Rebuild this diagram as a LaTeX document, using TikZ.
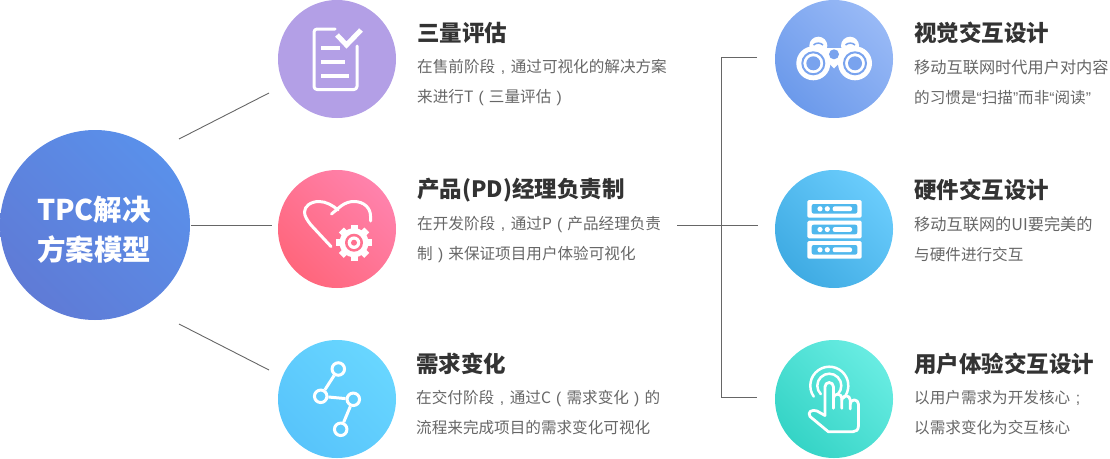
\documentclass[tikz,border=0pt]{standalone}
\usepackage{fontspec}
\setmainfont{Noto Sans CJK SC}
\newfontfamily\punctfont{Liberation Sans}
\usepackage{tikz}
\usetikzlibrary{calc, positioning}
\usepackage{xcolor}

\definecolor{maina}{HTML}{5F7BD6}
\definecolor{mainb}{HTML}{5A90EA}
\definecolor{evala}{HTML}{B39FE6}
\definecolor{proda}{HTML}{FF667C}
\definecolor{prodb}{HTML}{FF82AC}
\definecolor{chgea}{HTML}{58C4FB}
\definecolor{chgeb}{HTML}{68D6FF}
\definecolor{visa}{HTML}{6C9AEB}
\definecolor{visb}{HTML}{98B9F6}
\definecolor{hwa}{HTML}{3FABE3}
\definecolor{hwb}{HTML}{6ACCFC}
\definecolor{usra}{HTML}{35D4C6}
\definecolor{usrb}{HTML}{68ECE2}
\definecolor{headcol}{HTML}{333333}
\definecolor{bodycol}{HTML}{666666}

% punctuation set in the middle of a full-width box, and narrow quotes
\newcommand{\zw}[1]{\makebox[1em][c]{\punctfont #1}}
\newcommand{\qo}{{\punctfont “}}
\newcommand{\qc}{{\punctfont ”}}
\newcommand{\wideline}{\fontsize{16.2}{30}\selectfont}

\tikzset{
  ball/.style n args={2}{circle, minimum size=118pt, inner sep=0pt,
    bottom color=#1, top color=#2, shading angle=-45},
  headtext/.style={anchor=west, inner sep=0pt, text=headcol,
    font=\fontsize{22.5}{26}\selectfont\bfseries},
  bodytext/.style={anchor=west, inner sep=0pt, text=bodycol, align=left,
    font=\fontsize{15.6}{30}\selectfont},
  link/.style={draw=bodycol, line width=0.9pt},
  ink/.style={draw=white, line width=3pt, line cap=round, line join=round},
  dotnode/.style={circle, draw=white, line width=3pt, minimum size=12.5pt, inner sep=0pt}
}

\begin{document}
\begin{tikzpicture}[x=1pt, y=-1pt, node distance=170pt]
\useasboundingbox (0,0) rectangle (1110,458);

% centre
\node (model) [ball={maina}{mainb}, minimum size=190pt] at (95,225) {};
\node (modelt) [text=white, align=left, inner sep=0pt,
  font=\fontsize{28.5}{40}\selectfont\bfseries] at (94,230) {TPC解决\\方案模型};

% left column
\node (eval) [ball={evala}{evala}] at (337,59) {};
\node (prod) [ball={proda}{prodb}, below of=eval] {};
\node (chge) [ball={chgea}{chgeb}, below of=prod] {};

% right column
\node (vis) [ball={visa}{visb}] at (834,59) {};
\node (hw) [ball={hwa}{hwb}, below of=vis] {};
\node (usr) [ball={usra}{usrb}, below of=hw] {};

% texts
\node (evalh) [headtext] at (417,33) {三量评估};
\node (evalb) [bodytext] at (417,83) {在售前阶段\zw{,}通过可视化的解决方案\\来进行T\zw{(}三量评估\zw{)}};
\node (prodh) [headtext] at (417,190) {产品(PD)经理负责制};
\node (prodb) [bodytext] at (417,240) {在开发阶段\zw{,}通过P\zw{(}产品经理负责\\制\zw{)}来保证项目用户体验可视化};
\node (chgeh) [headtext] at (416,364) {需求变化};
\node (chgeb) [bodytext] at (416,413) {在交付阶段\zw{,}通过C\zw{(}需求变化\zw{)}的\\流程来完成项目的需求变化可视化};
\node (vish) [headtext] at (914,33) {视觉交互设计};
\node (visb) [bodytext] at (914,82) {{\wideline 移动互联网时代用户对内容}\\的习惯是\qo 扫描\qc 而非\qo 阅读\qc};
\node (hwh) [headtext] at (914,190) {硬件交互设计};
\node (hwb) [bodytext] at (914,239) {{\wideline 移动互联网的UI要完美的}\\与硬件进行交互};
\node (usrh) [headtext] at (914,364) {用户体验交互设计};
\node (usrb) [bodytext] at (914,413) {以用户需求为开发核心\zw{;}\\以需求变化为交互核心};

% connectors
\coordinate (la) at (179,139);
\coordinate (lb) at (269,93);
\coordinate (lc) at (191,225);
\coordinate (ld) at (272,225);
\coordinate (le) at (179,324);
\coordinate (lf) at (269,370);
\draw[link] (la) -- (lb);
\draw[link] (lc) -- (ld);
\draw[link] (le) -- (lf);
\coordinate (ra) at (677,225);
\coordinate (rb) at (758,225);
\coordinate (rc) at (757,57);
\coordinate (rd) at (721,57);
\coordinate (re) at (721,397);
\coordinate (rf) at (757,397);
\draw[link] (ra) -- (rb);
\draw[link] (rc) -- (rd) -- (re) -- (rf);

% clipboard
\draw[ink, rounded corners=3pt] (335,29) -- (314,29) -- (314,89.5) -- (357,89.5) -- (357,46);
\draw[ink, line width=4pt, line cap=butt] (321,47.5) -- (340,47.5);
\draw[ink, line width=4pt, line cap=butt] (321,61.5) -- (344.5,61.5);
\draw[ink, line width=4pt, line cap=butt] (321,75.5) -- (349,75.5);
\draw[ink, line width=5pt, line cap=butt, line join=miter] (337,35) -- (346.5,45) -- (361,30);

% heart
\draw[ink] (331,246.5) -- (311,225) .. controls (307,220) and (304.5,216) .. (304.5,212)
  .. controls (304.5,206) and (311,201.5) .. (319,201.5)
  .. controls (326,201.5) and (333,205.5) .. (338,210);
\draw[ink] (331.5,214) -- (341,206) .. controls (346,202.5) and (350,201.5) .. (354,201.5)
  .. controls (364,201.5) and (370.5,208) .. (370.5,216) -- (370.5,221);
\foreach \a in {0,45,...,315}
  \fill[white, rotate around={\a:(354,242.7)}] (350.5,224.7) rectangle (357.5,240);
\fill[white] (354,242.7) circle (14.5pt);
\fill[proda!60!prodb] (354,242.7) circle (9pt);
\fill[white] (354,242.7) circle (6.3pt);
\fill[proda!60!prodb] (354,242.7) circle (3pt);

% graph
\node (gtop) [dotnode] at (338.3,369) {};
\node (gmid) [dotnode] at (320.7,396.3) {};
\node (grgt) [dotnode] at (353.3,399.3) {};
\node (gbot) [dotnode] at (340.7,429.3) {};
\draw[ink, line cap=butt] (gtop) -- (gmid);
\draw[ink, line cap=butt] (gmid) -- (grgt);
\draw[ink, line cap=butt] (grgt) -- (gbot);

% binoculars
\fill[white] (813.3,63.3) circle (17pt);
\fill[white] (855,63.3) circle (17pt);
\fill[white] (818.3,45.7) circle (9pt);
\fill[white] (850,45.7) circle (9pt);
\fill[white] (814,48) rectangle (855,56);
\fill[white] (826,50) -- (842,50) -- (842,60) -- (834,68.5) -- (826,60) -- cycle;
\fill[visa!70!visb] (834,54.3) circle (5pt);
\draw[visa!70!visb, line width=2pt] (813.3,63.3) circle (11pt);
\draw[visa!70!visb, line width=2pt] (855,63.3) circle (11pt);
\fill[visa!70!visb] (813.3,63.3) circle (7pt);
\fill[visa!70!visb] (855,63.3) circle (7pt);
\draw[visa!70!visb, line width=1.5pt] (813.5,45) .. controls (816,42.5) and (820.5,42.5) .. (823,45);
\draw[visa!70!visb, line width=1.5pt] (845.5,45) .. controls (848,42.5) and (852.5,42.5) .. (855,45);

% server
\foreach \y in {200,220.7,241}{
  \fill[white, rounded corners=1.5pt] (807.3,\y) rectangle (861.7,\y+17.6);
  \fill[hwa!60!hwb, rounded corners=2pt] (811.7,\y+4) rectangle (857.3,\y+13.6);
  \fill[white] (820,\y+8.8) circle (2.6pt);
  \fill[white] (827.3,\y+8.8) circle (2.6pt);
  \fill[white, rounded corners=2pt] (832.7,\y+6.4) rectangle (852,\y+11.2);
}

% hand
\coordinate (hc) at (829.3,385.7);
\draw[ink, line width=2.5pt] (hc) ++(215:19pt) arc (215:-40:19pt);
\draw[ink, line width=2.5pt] (hc) ++(225:12pt) arc (225:-45:12pt);
\draw[ink, line width=2.8pt] (825,415.5) -- (825,386.7) arc (180:0:4.2pt) -- (833.4,408.3);
\draw[ink, line width=2.8pt] (833.4,398.3) arc (180:0:4.2pt) -- (841.8,408.3);
\draw[ink, line width=2.8pt] (841.8,400) arc (180:0:4.2pt) -- (850.2,409);
\draw[ink, line width=2.8pt] (850.2,404) arc (180:0:4.1pt) -- (858.4,426) .. controls (858.4,430) and (856,431.7) .. (853,431.7)
  -- (828.3,431.7) -- (810,416.5) .. controls (807,412) and (812,409) .. (817,411) -- (825,415.5);
\end{tikzpicture}
\end{document}
